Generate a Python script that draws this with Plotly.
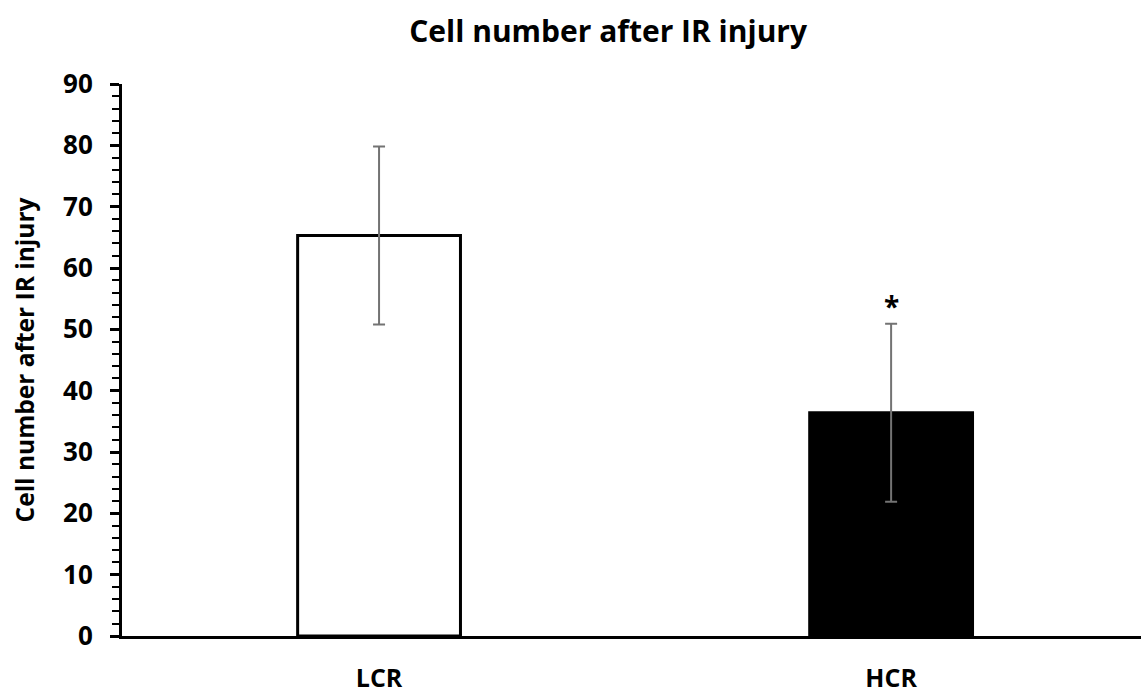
import plotly.graph_objects as go

# Group means and standard deviations
groups = ["LCR", "HCR"]
cell_counts = [65.3, 36.4]
count_sd = [14.5, 14.5]
fill_colors = ["white", "black"]

# Significance marker above the HCR error bar
sig_group = "HCR"
sig_label = "<b>*</b>"
sig_y = 53.8

y_tick_vals = [0, 10, 20, 30, 40, 50, 60, 70, 80, 90]

FONT = "Open Sans"

fig = go.Figure()
fig.add_trace(go.Bar(
    x=groups,
    y=cell_counts,
    marker=dict(color=fill_colors, line=dict(color="black", width=3)),
    error_y=dict(type="data", array=count_sd, visible=True,
                 color="#737373", thickness=2, width=6),
    width=0.318,
    showlegend=False,
))

fig.add_annotation(x=sig_group, y=sig_y, text=sig_label, showarrow=False,
                   font=dict(family=FONT, size=28, color="black"),
                   xanchor="center", yanchor="middle")

fig.update_layout(
    width=1141, height=693,
    margin=dict(l=122, r=0, t=84, b=57),
    paper_bgcolor="white", plot_bgcolor="white",
    title=dict(text="<b>Cell number after IR injury</b>", x=0.533, xanchor="center",
               y=0.955, yanchor="middle",
               font=dict(family=FONT, size=30, color="black")),
    font=dict(family=FONT, color="black"),
)

fig.update_xaxes(
    range=[-0.502, 1.488],
    showline=True, linecolor="black", linewidth=3,
    ticks="", showgrid=False, zeroline=False,
    tickfont=dict(family=FONT, size=25, color="black"),
    tickvals=groups, ticktext=[f"<b>{g}</b>" for g in groups],
    ticklabelstandoff=18,
)

fig.update_yaxes(
    range=[0, 90],
    tickvals=y_tick_vals,
    ticktext=[f"<b>{v}</b>" for v in y_tick_vals],
    showline=True, linecolor="black", linewidth=3,
    ticks="outside", ticklen=9, tickwidth=3, tickcolor="black",
    minor=dict(dtick=2, ticks="outside", ticklen=7, tickwidth=2, tickcolor="black"),
    showgrid=False, zeroline=False,
    tickfont=dict(family=FONT, size=26, color="black"),
    ticklabelstandoff=12,
    title=dict(text="<b>Cell number after IR injury</b>", standoff=22,
               font=dict(family=FONT, size=24.5, color="black")),
)

fig.write_html("out.html")
